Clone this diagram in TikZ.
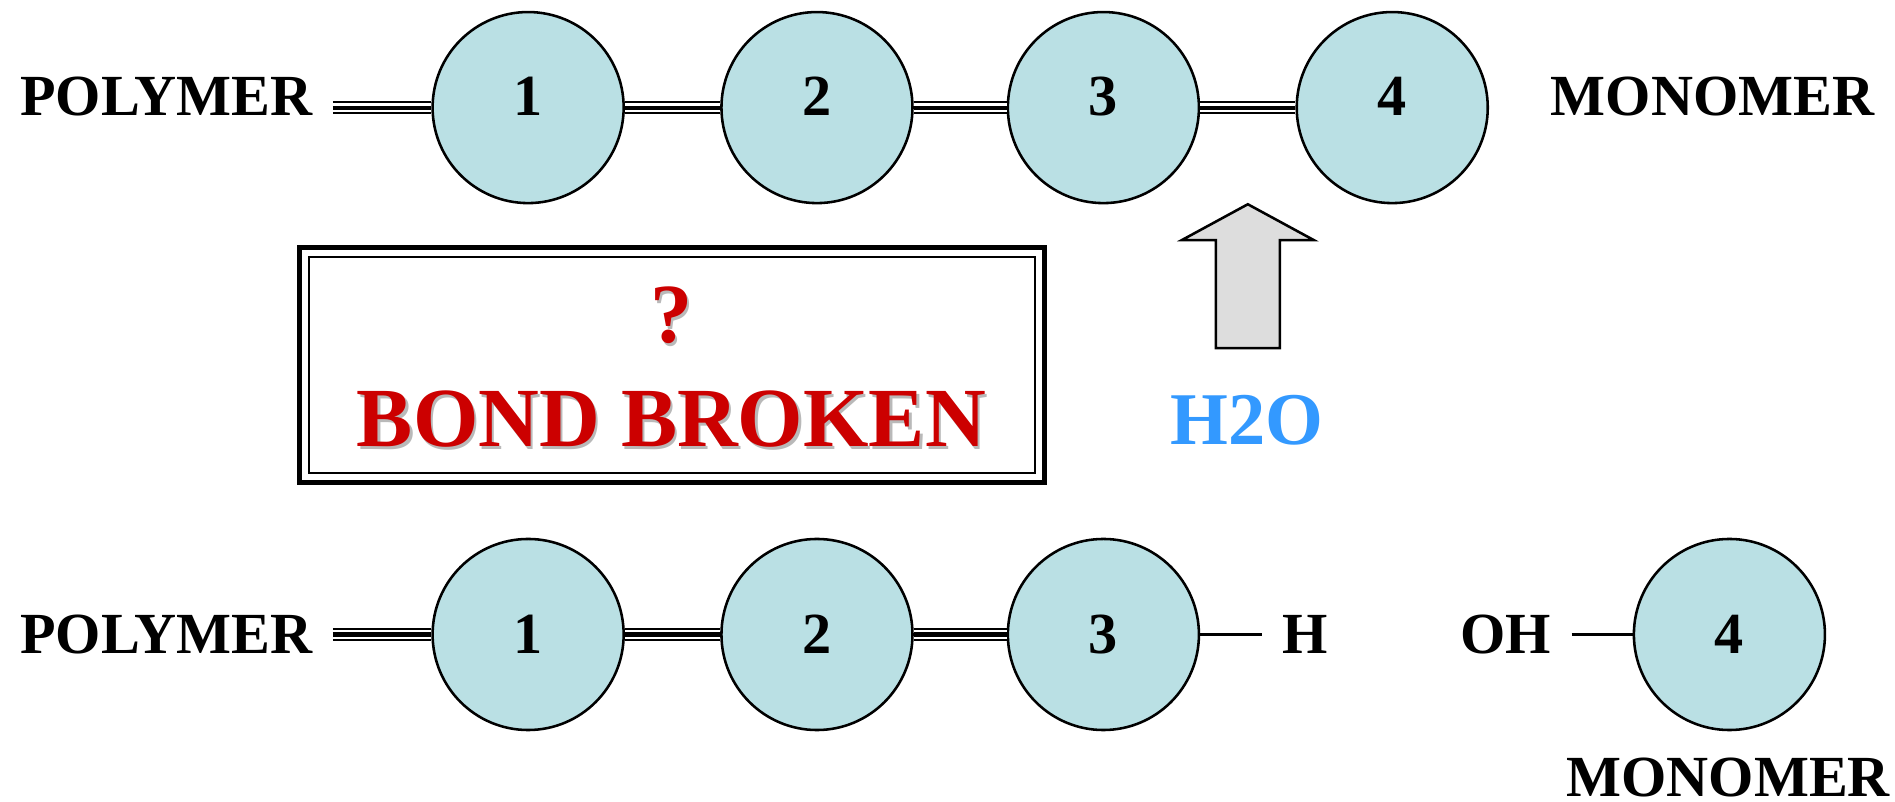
\documentclass[tikz,border=0pt]{standalone}
\usepackage{fontspec}
\setmainfont{Liberation Serif}
\usetikzlibrary{positioning}
\definecolor{beadblue}{RGB}{186,224,228}
\definecolor{bondred}{RGB}{204,0,0}
\definecolor{waterblue}{RGB}{51,153,255}
\definecolor{arrowgray}{RGB}{221,221,221}
\definecolor{shadowgray}{RGB}{185,185,185}

\tikzset{
  bead/.style={circle, draw=black, line width=0.6pt, fill=beadblue, minimum size=1.58cm,
    inner sep=0pt, font=\fontsize{13.7}{16}\selectfont\bfseries},
  raisedbead/.style={bead, text depth=0.18cm},
  chemtext/.style={inner sep=0pt, outer sep=0.17cm, font=\fontsize{13.7}{16}\selectfont\bfseries},
  triplebond/.style={line width=3.2pt, postaction={draw=white, line width=2.0pt},
    postaction={draw=black, line width=0.95pt}},
  singlebond/.style={line width=0.6pt},
  bigred/.style={inner sep=0pt, text=bondred, font=\fontsize{19.8}{22}\selectfont\bfseries}
}

\begin{document}
\begin{tikzpicture}[x=0.01cm, y=-0.01cm]
  \useasboundingbox (0,0) rectangle (1568,663.6);

  % the chain before the bond is broken
  \foreach \x [count=\i] in {437,676,913,1152}
    \node[raisedbead] (a\i) at (\x,89) {\i};
  \node[chemtext] (poly1) at (137.6,80) {POLYMER};
  \node[chemtext] (mono1) at (1417,80) {MONOMER};
  \draw[triplebond] (poly1.east |- a1) -- (a1);
  \foreach \i/\j in {1/2,2/3,3/4}
    \draw[triplebond] (a\i) -- (a\j);

  % the box in the middle
  \node[draw, line width=1.3pt, outer sep=0pt, inner sep=0pt, minimum width=6.16cm,
    minimum height=1.94cm] (brokenbox) at (556,302) {};
  \draw[line width=0.5pt] ([shift={(7.5,7.5)}]brokenbox.north west)
    rectangle ([shift={(-7.5,-7.5)}]brokenbox.south east);
  \node[bigred, text=shadowgray] (qshadow) at (557.5,263) {?};
  \node[bigred] (qmark) at (555.5,261) {?};
  \node[bigred, text=shadowgray] (bondshadow) at (557.5,349) {BOND BROKEN};
  \node[bigred] (bondtxt) at (555.5,347) {BOND BROKEN};

  % water comes in
  \draw[fill=arrowgray, line width=0.6pt] (1006,288) -- (1006,198.6) -- (978,198.6)
    -- (1032.5,169) -- (1087,198.6) -- (1059,198.6) -- (1059,288) -- cycle;
  \node[inner sep=0pt, text=waterblue, font=\fontsize{17.5}{20}\selectfont\bfseries]
    (water) at (1032,348) {H2O};

  % the chain after the bond is broken
  \foreach \x [count=\i] in {437,676,913}
    \node[bead] (b\i) at (\x,525) {\i};
  \node[bead] (b4) at (1431,525) {4};
  \node[chemtext] (poly2) at (137.6,525) {POLYMER};
  \node[chemtext] (hyd) at (1080,525) {H};
  \node[chemtext] (oh) at (1246,525) {OH};
  \node[chemtext] (mono2) at (1430,643.5) {MONOMER};
  \draw[triplebond] (poly2) -- (b1);
  \foreach \i/\j in {1/2,2/3}
    \draw[triplebond] (b\i) -- (b\j);
  \draw[singlebond] (b3) -- (hyd);
  \draw[singlebond] (oh) -- (b4);
\end{tikzpicture}
\end{document}
